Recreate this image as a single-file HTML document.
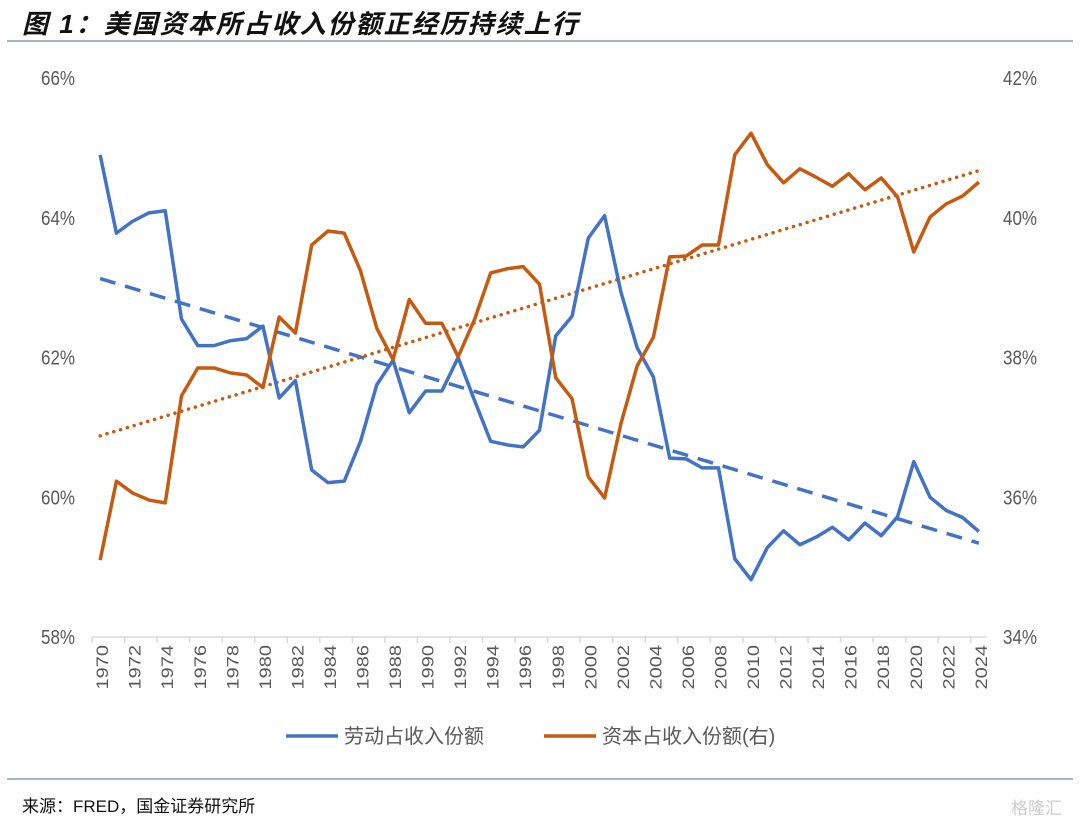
<!DOCTYPE html>
<html><head><meta charset="utf-8">
<style>
body{margin:0;background:#fff;}
#wrap{position:relative;width:1080px;height:823px;overflow:hidden;font-family:"Liberation Sans","Noto Sans CJK SC",sans-serif;}
#title{position:absolute;left:22px;top:4px;font-size:26px;font-weight:bold;font-style:italic;color:#111;font-family:"Liberation Sans","Noto Sans CJK SC",sans-serif;letter-spacing:2px;}
.hr{position:absolute;left:7px;width:1066px;height:2px;background:#9fb6c4;}
#src{position:absolute;left:22px;top:792px;font-size:17px;color:#111;font-family:"Liberation Sans","Noto Sans CJK SC",sans-serif;}
#wm{position:absolute;right:18px;top:794px;font-size:17px;color:#ccc;}
</style></head><body>
<div id="wrap">
<div id="title">图 1：美国资本所占收入份额正经历持续上行</div>
<div class="hr" style="top:40px"></div>
<svg id="chart" width="1080" height="823" style="position:absolute;left:0;top:0"></svg>
<div class="hr" style="top:778px"></div>
<div id="src">来源：FRED，国金证券研究所</div>
<div id="wm">格隆汇</div>
</div>
<script>
const years=[];for(let y=1970;y<=2024;y++)years.push(y);
const laborShare=[64.90,63.78,63.95,64.07,64.10,62.55,62.17,62.17,62.24,62.27,62.45,61.42,61.67,60.39,60.21,60.23,60.80,61.61,61.96,61.21,61.52,61.52,62.00,61.39,60.80,60.75,60.72,60.96,62.31,62.59,63.71,64.03,62.94,62.14,61.72,60.56,60.55,60.42,60.42,59.12,58.82,59.28,59.52,59.32,59.43,59.57,59.39,59.63,59.45,59.72,60.51,60.00,59.81,59.71,59.51];
const capitalShare=[35.10,36.23,36.06,35.96,35.92,37.45,37.85,37.85,37.78,37.75,37.57,38.58,38.35,39.61,39.81,39.78,39.24,38.42,37.97,38.83,38.49,38.49,38.01,38.54,39.21,39.27,39.30,39.05,37.71,37.41,36.29,35.99,37.05,37.88,38.29,39.44,39.45,39.61,39.61,40.90,41.21,40.76,40.50,40.70,40.58,40.45,40.63,40.40,40.57,40.30,39.51,40.01,40.20,40.31,40.51];
const leftTicks=[58,60,62,64,66];
const rightTicks=[34,36,38,40,42];
const NS="http://www.w3.org/2000/svg";
const svg=document.getElementById('chart');
const X0=92,X1=987,Y0=78,Y1=637;
const bw=(X1-X0)/years.length;
const x=i=>X0+bw*(i+0.5);
const yL=v=>Y1-(v-58)/8*(Y1-Y0);
const yR=v=>Y1-(v-34)/8*(Y1-Y0);
function mk(tag,attrs){const e=document.createElementNS(NS,tag);for(const k in attrs)e.setAttribute(k,attrs[k]);svg.appendChild(e);return e;}
let ax=mk('line',{x1:X0,y1:Y1,x2:X1,y2:Y1,stroke:'#d9d9d9','stroke-width':1.5});


for(let i=0;i<=years.length;i+=2){
 const tx=X0+bw*i;
 let t=mk('line',{x1:tx,y1:Y1,x2:tx,y2:Y1+6,stroke:'#d9d9d9','stroke-width':1.5});
 
 
}
years.forEach((yr,i)=>{ if(i%2)return;
 const t=mk('text',{x:0,y:0,transform:`translate(${x(i)+8},${Y1+8}) rotate(-90) scale(1,0.85)`,'text-anchor':'end','font-size':20,fill:'#595959'});
 t.textContent=yr;
 
 
});
leftTicks.forEach(v=>{const t=mk('text',{x:0,y:0,transform:`translate(75,${yL(v)+7}) scale(0.85,1)`,'text-anchor':'end','font-size':20,fill:'#595959'});t.textContent=v+'%';
 
 });
rightTicks.forEach(v=>{const t=mk('text',{x:0,y:0,transform:`translate(1003,${yR(v)+7}) scale(0.85,1)`,'text-anchor':'start','font-size':20,fill:'#595959'});t.textContent=v+'%';
 
 });
function fit(arr){const n=arr.length;let sx=0,sy=0,sxx=0,sxy=0;arr.forEach((v,i)=>{sx+=i;sy+=v;sxx+=i*i;sxy+=i*v;});const b=(n*sxy-sx*sy)/(n*sxx-sx*sx);const a=(sy-b*sx)/n;return [a,a+b*(n-1)];}
const lt=fit(laborShare),ct=fit(capitalShare);
let tl=mk('line',{x1:x(0),y1:yL(lt[0]),x2:x(years.length-1),y2:yL(lt[1]),stroke:'#4472c4','stroke-width':3.5,'stroke-dasharray':'16,10'});


let tc=mk('line',{x1:x(0),y1:yR(ct[0]),x2:x(years.length-1),y2:yR(ct[1]),stroke:'#c55a11','stroke-width':3.5,'stroke-dasharray':'0.1,7','stroke-linecap':'round'});


let pl=mk('polyline',{points:laborShare.map((v,i)=>x(i)+','+yL(v)).join(' '),fill:'none',stroke:'#4472c4','stroke-width':3.5,'stroke-linejoin':'round'});


let pc=mk('polyline',{points:capitalShare.map((v,i)=>x(i)+','+yR(v)).join(' '),fill:'none',stroke:'#c55a11','stroke-width':3.5,'stroke-linejoin':'round'});


let l1=mk('line',{x1:286,y1:736,x2:338,y2:736,stroke:'#4472c4','stroke-width':3.5});


let lt1=mk('text',{x:344,y:743,'font-size':20,fill:'#595959'});lt1.textContent='劳动占收入份额';


let l2=mk('line',{x1:544,y1:736,x2:596,y2:736,stroke:'#c55a11','stroke-width':3.5});


let lt2=mk('text',{x:602,y:743,'font-size':20,fill:'#595959'});lt2.textContent='资本占收入份额(右)';


</script>
</body></html>
